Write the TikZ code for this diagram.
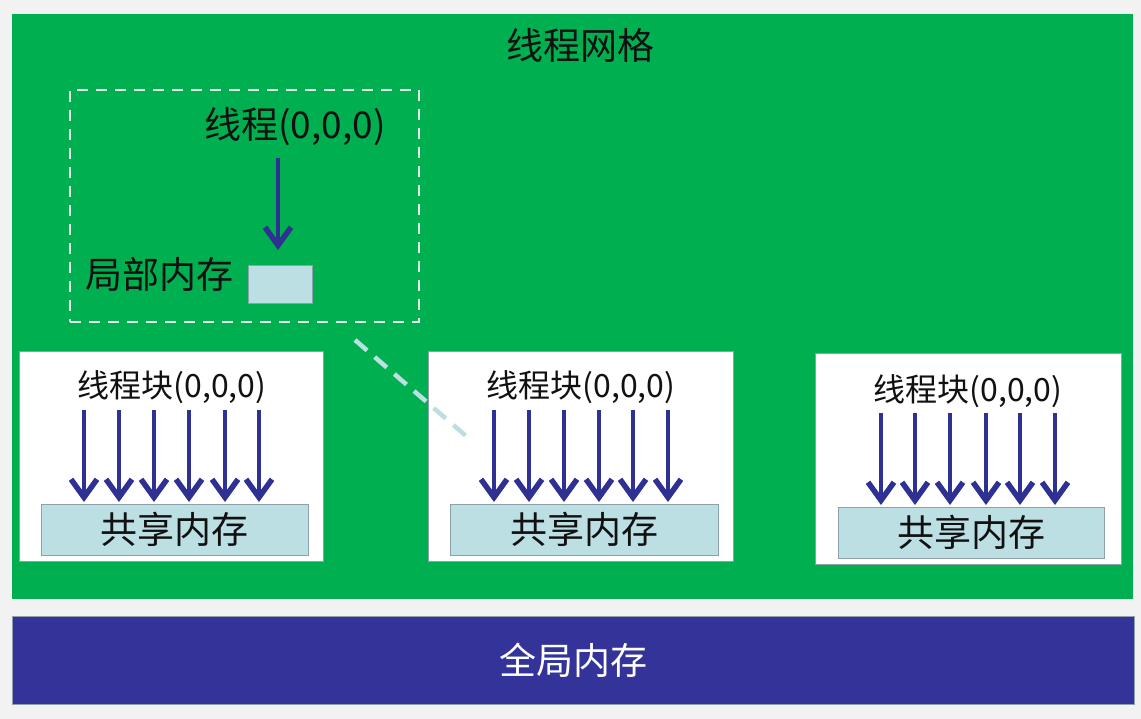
\documentclass[tikz,border=0pt]{standalone}
\usepackage{fontspec}
\setmainfont{Noto Sans CJK SC}
\usetikzlibrary{arrows.meta}
\definecolor{bg}{HTML}{F2F2F2}
\definecolor{grn}{HTML}{00B050}
\definecolor{navy}{HTML}{333399}
\definecolor{arrowblue}{HTML}{2E3192}
\definecolor{memfill}{HTML}{BBDFE2}
\definecolor{edgegrey}{HTML}{8EA0AC}
\definecolor{dashw}{HTML}{E4EFE8}
\definecolor{txt}{HTML}{111111}
\begin{document}
\begin{tikzpicture}[x=1pt,y=-1pt,
  panel/.style={anchor=north west, inner sep=0pt, outer sep=0pt},
  blockbox/.style={panel, draw=edgegrey, line width=1pt, fill=white},
  membox/.style={panel, draw=edgegrey, line width=1pt, fill=memfill},
  memtext/.style={text=txt, inner sep=0pt, font=\fontsize{37pt}{42pt}\selectfont},
  bigtext/.style={text=txt, inner sep=0pt, font=\fontsize{37pt}{42pt}\selectfont},
  blocktext/.style={text=txt, inner sep=0pt, font=\fontsize{32pt}{36pt}\selectfont},
  tarrow/.style={draw=arrowblue, line width=4.5pt, -{Straight Barb[length=18pt,width=26pt,line width=5.5pt 0]}},
  linkdash/.style={draw=memfill, line width=4.5pt, dash pattern=on 16pt off 10pt}
]
\useasboundingbox (0,0) rectangle (1141,719);
\fill[bg] (0,0) rectangle (1141,719);

% grid
\node[panel, fill=grn, minimum width=1121pt, minimum height=585pt] (grid) at (12,14) {};
\node[bigtext] (gridlabel) at (580,45) {线程网格};

% local thread box
\node[panel, draw=dashw, line width=2.4pt, dash pattern=on 11pt off 8pt, minimum width=349pt, minimum height=232pt] (localbox) at (70,90) {};
\node[bigtext] (thread) at (295,127) {线程(0,0,0)};
\node[bigtext] (locallabel) at (159,274) {局部内存};
\node[panel, draw=edgegrey, line width=1pt, fill=memfill, minimum width=64pt, minimum height=38pt] (localmem) at (248,266) {};
\coordinate (tstart) at (278,158);
\coordinate (tend) at (278,250);
\draw[tarrow] (tstart) -- (tend);

% block 1
\node[blockbox, minimum width=304pt, minimum height=209pt] (b1) at (19,352) {};
\node[blocktext] (b1label) at (172,387) {线程块(0,0,0)};
\node[membox, minimum width=267pt, minimum height=51pt] (sm1) at (41,504) {};
\node[memtext] (sm1label) at (sm1.center) {共享内存};
\foreach \x in {84,119,154,189,225,259}
  \draw[tarrow] (\x,410) -- (\x,502);

% block 2
\node[blockbox, minimum width=305pt, minimum height=209pt] (b2) at (428,352) {};
\node[blocktext] (b2label) at (581,387) {线程块(0,0,0)};
\node[membox, minimum width=268pt, minimum height=51pt] (sm2) at (450,504) {};
\node[memtext] (sm2label) at (sm2.center) {共享内存};
\foreach \x in {494,529,564,599,633,668}
  \draw[tarrow] (\x,410) -- (\x,502);

% block 3
\node[blockbox, minimum width=306pt, minimum height=210pt] (b3) at (815,354) {};
\node[blocktext] (b3label) at (968,391) {线程块(0,0,0)};
\node[membox, minimum width=266pt, minimum height=51pt] (sm3) at (838,507) {};
\node[memtext] (sm3label) at (sm3.center) {共享内存};
\foreach \x in {881,915,950,986,1020,1055}
  \draw[tarrow] (\x,413) -- (\x,505);

% link from local box to block 2
\coordinate (linkA) at (355,340);
\coordinate (linkB) at (473,442);
\draw[linkdash] (linkA) -- (linkB);

% global memory
\node[panel, draw=edgegrey, line width=1pt, fill=navy, minimum width=1122pt, minimum height=88pt] (global) at (12,616) {};
\node[text=white, inner sep=0pt, font=\fontsize{37pt}{42pt}\selectfont] (globallabel) at (global.center) {全局内存};
\end{tikzpicture}
\end{document}
